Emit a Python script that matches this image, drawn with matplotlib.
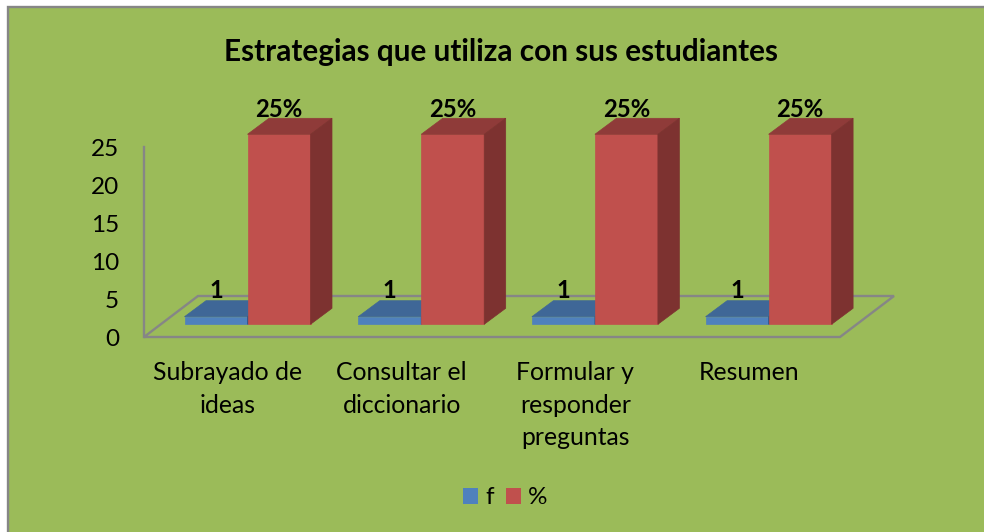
import matplotlib
matplotlib.use("Agg")
import matplotlib.pyplot as plt
from matplotlib.patches import Rectangle, Polygon, Patch
from matplotlib.transforms import Affine2D

plt.rcParams['font.family'] = ['Lato', 'DejaVu Sans']

title = "Estrategias que utiliza con sus estudiantes"
categories = ["Subrayado de\nideas", "Consultar el\ndiccionario", "Formular y\nresponder\npreguntas", "Resumen"]
f_values = [1, 1, 1, 1]
pct_values = [25, 25, 25, 25]
y_ticks = [0, 5, 10, 15, 20, 25]

W, H = 984, 532
GREEN = "#9BBB59"
GREY = "#868686"
BLUE = ("#4F81BD", "#3F6797", "#345480")
RED = ("#C0504D", "#8F3B39", "#7D3230")

fig = plt.figure(figsize=(W / 100, H / 100), dpi=100, facecolor="white")
fig.add_artist(Rectangle((8 / W, -0.02), 1.05, 1 - 7 / H + 0.02, transform=fig.transFigure,
                         facecolor=GREEN, edgecolor=GREY, linewidth=1.7, zorder=-5))
fig.suptitle(title, x=500.5 / W, y=1 - 52 / H, va="center", ha="center",
             fontsize=21.4, fontweight="bold", color="black")

# axes box in pixels: floor front edge and top of the axis
L, R, B, T = 144, 840, 337, 147
ax = fig.add_axes([L / W, 1 - B / H, (R - L) / W, (B - T) / H])
ax.patch.set_alpha(0)
step = 173.7
ax.set_xlim((L - 228) / step, (R - 228) / step)
ax.set_ylim(0, 25)

px_x = step                # pixels per x unit
px_y = (B - T) / 25        # pixels per y unit
base = ax.transData + Affine2D().translate(0.5, 12.7)

bar_w = 63 / px_x
shift = 19 / px_x
dx, dy = 21.5 / px_x, 16 / px_y
fx, fy = 54 / px_x, 41 / px_y

# floor
x0, x1 = ax.get_xlim()
ax.add_patch(Polygon([(x0, 0), (x1, 0), (x1 + fx, fy), (x0 + fx, fy)], closed=True, fill=False,
                     edgecolor=GREY, linewidth=1.7, clip_on=False, zorder=1))


def bar3d(left, h, cols, z):
    ax.bar(left, h, bar_w, align="edge", color=cols[0], edgecolor=cols[0], linewidth=0.5,
           transform=base, clip_on=False, zorder=z)
    r = left + bar_w
    ax.add_patch(Polygon([(left, h), (r, h), (r + dx, h + dy), (left + dx, h + dy)], closed=True,
                         facecolor=cols[1], edgecolor=cols[1], linewidth=0.5, transform=base,
                         clip_on=False, zorder=z))
    ax.add_patch(Polygon([(r, 0), (r + dx, dy), (r + dx, h + dy), (r, h)], closed=True,
                         facecolor=cols[2], edgecolor=cols[2], linewidth=0.5, transform=base,
                         clip_on=False, zorder=z))


for i, (fv, pv) in enumerate(zip(f_values, pct_values)):
    blue_left = i + shift - bar_w
    red_left = i + shift
    bar3d(blue_left, fv, BLUE, 3 + 2 * i)
    bar3d(red_left, pv, RED, 4 + 2 * i)
    ax.annotate(f"{fv}", (blue_left + bar_w / 2, fv), xycoords=base, xytext=(0, 26 / 1.389),
                textcoords="offset points", ha="center", va="center", fontsize=17.2,
                fontweight="bold", color="black", zorder=20)
    ax.annotate(f"{pv}%", (red_left + bar_w / 2, pv), xycoords=base, xytext=(0, 24.5 / 1.389),
                textcoords="offset points", ha="center", va="center", fontsize=17.2,
                fontweight="bold", color="black", zorder=20)

for s in ("top", "right", "bottom"):
    ax.spines[s].set_visible(False)
ax.spines["left"].set_color(GREY)
ax.spines["left"].set_linewidth(1.7)
ax.set_yticks(y_ticks)
ax.set_xticks(range(len(categories)))
ax.set_xticklabels(categories, linespacing=1.5)
ax.tick_params(axis="y", length=0, pad=18, labelsize=17.5, labelcolor="black")
ax.tick_params(axis="x", length=0, pad=17.5, labelsize=17.8, labelcolor="black")

fig.legend(handles=[Patch(facecolor=BLUE[0], label="f"), Patch(facecolor=RED[0], label="%")],
           ncol=2, frameon=False, loc="center", bbox_to_anchor=(505 / W, 1 - 498 / H),
           fontsize=17.5, handlelength=0.62, handleheight=0.62, handletextpad=0.3,
           columnspacing=0.5, labelcolor="black")

fig.savefig("out.png", dpi=100, facecolor="white")
